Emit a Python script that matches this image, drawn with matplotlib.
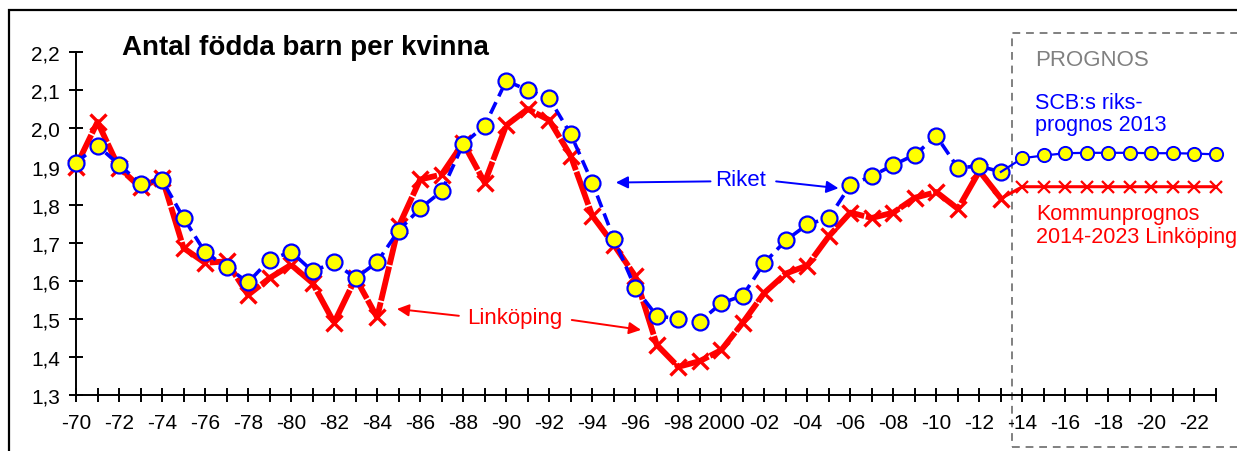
import matplotlib
matplotlib.use("Agg")
import matplotlib.pyplot as plt
from matplotlib.patches import Rectangle

plt.rcParams['font.family'] = ['Liberation Sans', 'DejaVu Sans']

# data
years = list(range(1970, 2014))
riket = [1.91, 1.955, 1.905, 1.855, 1.865, 1.765, 1.675, 1.636, 1.596, 1.655,
         1.676, 1.625, 1.648, 1.607, 1.649, 1.732, 1.79, 1.835, 1.959, 2.007,
         2.125, 2.101, 2.079, 1.985, 1.858, 1.711, 1.581, 1.508, 1.50, 1.493,
         1.541, 1.561, 1.647, 1.706, 1.748, 1.765, 1.851, 1.875, 1.904, 1.931,
         1.98, 1.897, 1.901, 1.886]
linkoping = [1.90, 2.017, 1.897, 1.845, 1.871, 1.686, 1.647, 1.651, 1.563, 1.607,
             1.642, 1.594, 1.49, 1.607, 1.504, 1.743, 1.866, 1.879, 1.962, 1.858,
             2.008, 2.051, 2.022, 1.928, 1.771, 1.695, 1.612, 1.432, 1.374, 1.389,
             1.418, 1.49, 1.568, 1.619, 1.64, 1.717, 1.779, 1.765, 1.779, 1.818,
             1.833, 1.789, 1.888, 1.816]
prog_years = list(range(2014, 2024))
riket_prog = [1.922, 1.929, 1.935, 1.936, 1.936, 1.936, 1.935, 1.935, 1.934, 1.932]
linkoping_prog = [1.847] * 10

ytick_vals = [1.3, 1.4, 1.5, 1.6, 1.7, 1.8, 1.9, 2.0, 2.1, 2.2]
ytick_labels = ['1,3', '1,4', '1,5', '1,6', '1,7', '1,8', '1,9', '2,0', '2,1', '2,2']
xtick_vals = list(range(1970, 2024))
xtick_labels = ['-70', '', '-72', '', '-74', '', '-76', '', '-78', '', '-80', '',
                '-82', '', '-84', '', '-86', '', '-88', '', '-90', '', '-92', '',
                '-94', '', '-96', '', '-98', '', '2000', '', '-02', '', '-04', '',
                '-06', '', '-08', '', '-10', '', '-12', '', '-14', '', '-16', '',
                '-18', '', '-20', '', '-22', '']

fig = plt.figure(figsize=(12.37, 4.52), dpi=100)
ax = fig.add_axes([76 / 1237, 1 - 396 / 452, (1216 - 76) / 1237, (396 - 53.3) / 452])

# outer frame
fig.patches.append(Rectangle((9 / 1237, -0.1), 1.2, 1.1 - 11 / 452,
                             transform=fig.transFigure, fill=False,
                             edgecolor='black', linewidth=1.6))

# Linköping history
ax.plot(years, linkoping, color='red', linewidth=4.2, dashes=(6, 0.3),
        marker='x', markersize=12, markeredgewidth=2.4, clip_on=False, zorder=3)
# Linköping forecast
ax.plot([years[-1]] + prog_years, [linkoping[-1]] + linkoping_prog, color='red',
        linewidth=2.2, marker='x', markersize=8.5, markeredgewidth=1.6,
        markevery=list(range(1, 11)), clip_on=False, zorder=3)

# Riket history
ax.plot(years, riket, color='blue', linewidth=2.6, dashes=(3.5, 1.8), zorder=4,
        marker='o', markersize=11.5, markerfacecolor='#ffff00',
        markeredgecolor='blue', markeredgewidth=1.6, clip_on=False)
# Riket forecast
ax.plot([years[-1]] + prog_years, [riket[-1]] + riket_prog, color='blue',
        linewidth=1.6, zorder=4, marker='o', markersize=9.5,
        markerfacecolor='#ffff00', markeredgecolor='blue', markeredgewidth=1.4,
        markevery=list(range(1, 11)), clip_on=False)

ax.set_xlim(1970, 2023)
ax.set_ylim(1.3, 2.2)
ax.set_xticks(xtick_vals)
ax.set_xticklabels(xtick_labels)
ax.set_yticks(ytick_vals)
ax.set_yticklabels(ytick_labels)
ax.tick_params(direction='inout', length=10, width=1.4, labelsize=15, colors='black')
ax.tick_params(axis='x', pad=8)
ax.tick_params(axis='y', pad=6.5)
for s in ['top', 'right']:
    ax.spines[s].set_visible(False)
for s in ['left', 'bottom']:
    ax.spines[s].set_linewidth(1.4)

ax.text(1972.14, 2.213, 'Antal födda barn per kvinna', fontsize=20,
        fontweight='bold', va='center', ha='left')

# Riket annotation
ax.text(2000.9, 1.866, 'Riket', color='blue', fontsize=16, ha='center', va='center')
arrow_b = dict(arrowstyle='-|>', color='blue', lw=1.4, mutation_scale=18,
               shrinkA=0, shrinkB=0)
ax.annotate('', xy=(1995.1, 1.858), xytext=(1999.5, 1.861), arrowprops=arrow_b)
ax.annotate('', xy=(2005.45, 1.843), xytext=(2002.55, 1.861), arrowprops=arrow_b)

# Linköping annotation
ax.text(1990.4, 1.503, 'Linköping', color='red', fontsize=16, ha='center', va='center')
arrow_r = dict(arrowstyle='-|>', color='red', lw=1.4, mutation_scale=18,
               shrinkA=0, shrinkB=0)
ax.annotate('', xy=(1984.92, 1.526), xytext=(1987.8, 1.508), arrowprops=arrow_r)
ax.annotate('', xy=(1996.27, 1.471), xytext=(1993.05, 1.497), arrowprops=arrow_r)

# forecast box
ax.add_patch(Rectangle((2013.5, 1.163), 20, 2.251 - 1.163, fill=False,
                       edgecolor='#808080', linewidth=1.4, linestyle=(0, (4, 3)),
                       clip_on=False))
ax.text(2014.58, 2.182, 'PROGNOS', color='#808080', fontsize=16, ha='left', va='center')
ax.text(2014.58, 2.039, 'SCB:s riks-\nprognos 2013', color='blue', fontsize=15.5,
        ha='left', va='center', linespacing=1.1)
ax.text(2014.65, 1.746, 'Kommunprognos\n2014-2023 Linköping', color='red',
        fontsize=15.5, ha='left', va='center', linespacing=1.1)

fig.savefig('out.png', dpi=100)
